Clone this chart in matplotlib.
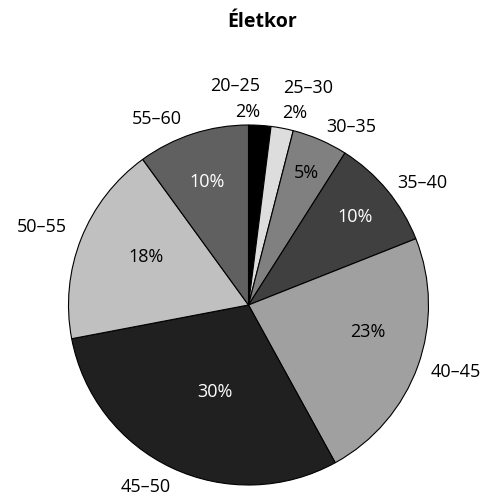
import numpy as np
import matplotlib.pyplot as plt

# adatok
korcsoportok = ['20–25', '25–30', '30–35', '35–40', '40–45', '45–50', '50–55', '55–60']
szazalek = [2, 2, 5, 10, 23, 30, 18, 10]
szinek = ['#000000', '#dddddd', '#808080', '#404040', '#a0a0a0', '#202020', '#c0c0c0', '#606060']

# címkék elhelyezése (szög fokban, sugár a kör sugarához képest)
cimke_hely = [(93.5, 1.22), (74.7, 1.25), (59.9, 1.14), (35.0, 1.18),
              (-18.0, 1.21), (-119.6, 1.16), (159.3, 1.23), (116.3, 1.15)]
szazalek_hely = [(90.1, 1.07), (76.4, 1.10), (66.5, 0.80), (39.6, 0.77),
                 (-12.7, 0.68), (-111, 0.52), (155, 0.63), (108.8, 0.72)]
feher_szoveg = ['#404040', '#202020', '#606060', '#000000']

plt.rcParams['font.family'] = ['Open Sans', 'DejaVu Sans']

fig = plt.figure(figsize=(4.83, 4.98), dpi=100)
ax = fig.add_axes([68.5 / 483, 13 / 498, 360 / 483, 360 / 498])

wedges, _ = ax.pie(szazalek, colors=szinek, startangle=90, counterclock=False,
                   wedgeprops=dict(edgecolor='black', linewidth=0.8))
ax.set_xlim(-1, 1)
ax.set_ylim(-1, 1)
ax.set_aspect('equal')
ax.axis('off')

for i, nev in enumerate(korcsoportok):
    a, r = cimke_hely[i]
    ax.text(r * np.cos(np.radians(a)), r * np.sin(np.radians(a)), nev,
            ha='center', va='center', fontsize=13, color='black')
    a, r = szazalek_hely[i]
    szin = 'white' if (r < 1 and szinek[i] in feher_szoveg) else 'black'
    ax.text(r * np.cos(np.radians(a)), r * np.sin(np.radians(a)), f'{szazalek[i]}%',
            ha='center', va='center', fontsize=13, color=szin)

fig.text(262 / 483, 1 - 22 / 498, 'Életkor', ha='center', va='center',
         fontsize=14, fontweight='bold')

fig.savefig('out.png', dpi=100)
